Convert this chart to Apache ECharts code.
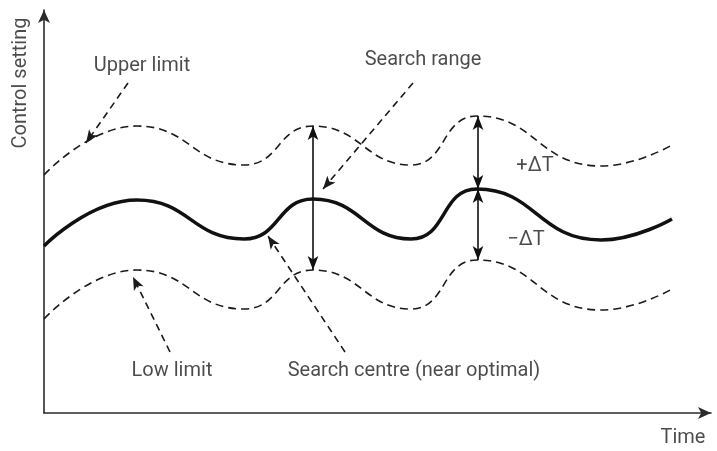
<!DOCTYPE html>
<html>
<head>
<meta charset="utf-8">
<script src="https://cdn.jsdelivr.net/npm/echarts@6/dist/echarts.min.js"></script>
<style>
  html, body { margin: 0; padding: 0; background: #fff; }
  #chart { width: 717px; height: 451px; }
</style>
</head>
<body>
<div id="chart"></div>
<script>
// key points of the curves (x = time, y = control setting)
const timePts = [0, 93, 200, 269, 367, 433, 557, 628];
const centreVals = [167, 213, 174, 214, 174, 224, 173, 194];
const upperVals = [238, 287, 248, 287, 248, 297, 247, 268];
const lowerVals = [94, 143, 104, 143, 104, 153, 103, 124];

// +/- delta T bars (solid double arrows)
const rangeBars = [
  [[269, 287], [269, 143]],
  [[434, 297], [434, 224]],
  [[434, 224], [434, 153]]
];
// dashed pointer arrows [from, to]
const pointers = [
  [[84, 330], [42, 270]],
  [[369, 330], [279, 224]],
  [[126, 61], [89, 136]],
  [[301, 61], [224, 177]]
];
// annotation texts [x, y, text]
const notes = [
  [98, 347, 'Upper limit'],
  [379, 353, 'Search range'],
  [491, 247, '+ΔT'],
  [482, 173, '−ΔT'],
  [128, 42, 'Low limit'],
  [370, 42, 'Search centre (near optimal)'],
  [639, -25, 'Time'],
  [-23, 330, 'Control setting']
];

const zip = (xs, ys) => xs.map((x, i) => [x, ys[i]]);

const chart = echarts.init(document.getElementById('chart'));
chart.setOption({
  animation: false,
  grid: { left: 44, right: 6, top: 10, bottom: 38 },
  xAxis: {
    type: 'value', min: 0, max: 667,
    axisLine: { show: true, symbol: ['none', 'arrow'], symbolSize: [9, 13], lineStyle: { color: '#2b2b2b', width: 1.6 } },
    axisTick: { show: false }, axisLabel: { show: false }, splitLine: { show: false }
  },
  yAxis: {
    type: 'value', min: 0, max: 403,
    axisLine: { show: true, symbol: ['none', 'arrow'], symbolSize: [9, 13], lineStyle: { color: '#2b2b2b', width: 1.6 } },
    axisTick: { show: false }, axisLabel: { show: false }, splitLine: { show: false }
  },
  series: [
    {
      name: 'Upper limit', type: 'line', smooth: true, showSymbol: false,
      lineStyle: { color: '#1a1a1a', width: 1.6, type: [8, 5] },
      data: zip(timePts, upperVals)
    },
    {
      name: 'Low limit', type: 'line', smooth: true, showSymbol: false,
      lineStyle: { color: '#1a1a1a', width: 1.6, type: [8, 5] },
      data: zip(timePts, lowerVals)
    },
    {
      name: 'Search centre', type: 'line', smooth: true, showSymbol: false,
      lineStyle: { color: '#111', width: 3.5 },
      data: zip(timePts, centreVals),
      markLine: {
        silent: true, animation: false,
        symbol: ['arrow', 'arrow'], symbolSize: [8, 14],
        label: { show: false },
        lineStyle: { color: '#111', width: 1.6, type: 'solid' },
        data: rangeBars.map(b => [{ coord: b[0] }, { coord: b[1] }])
      }
    },
    {
      name: 'pointers', type: 'line', data: [], showSymbol: false,
      markLine: {
        silent: true, animation: false,
        symbol: ['none', 'arrow'], symbolSize: [8, 13],
        label: { show: false },
        lineStyle: { color: '#1a1a1a', width: 1.6, type: [7, 5] },
        data: pointers.map(p => [{ coord: p[0] }, { coord: p[1] }])
      }
    },
    {
      name: 'notes', type: 'scatter', symbolSize: 0, clip: false, silent: true,
      label: {
        show: true, position: 'inside', formatter: p => p.value[2],
        fontFamily: 'Roboto', fontSize: 20, color: '#1e1e1e'
      },
      data: notes.map(n => n[2] === 'Control setting'
        ? { value: n, label: { rotate: 90 } }
        : { value: n })
    }
  ]
});
</script>
</body>
</html>
